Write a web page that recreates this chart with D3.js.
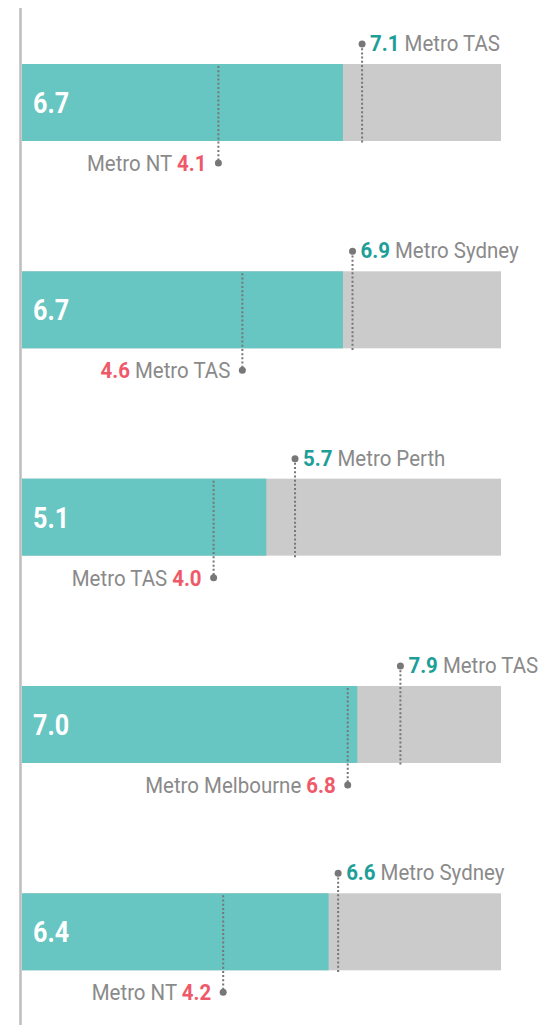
<!DOCTYPE html>
<html>
<head>
<meta charset="utf-8">
<script src="https://cdn.jsdelivr.net/npm/d3@7"></script>
<style>
  body { margin: 0; background: #fff; }
  svg { display: block; }
  text { font-family: Roboto, "Liberation Sans", sans-serif; }
</style>
</head>
<body>
<script>
const values = [6.7, 6.7, 5.1, 7.0, 6.4];
const highValues = [7.1, 6.9, 5.7, 7.9, 6.6];
const highNames = ['Metro TAS', 'Metro Sydney', 'Metro Perth', 'Metro TAS', 'Metro Sydney'];
const lowValues = [4.1, 4.6, 4.0, 6.8, 4.2];
const lowNames = ['Metro NT', 'Metro TAS', 'Metro TAS', 'Metro Melbourne', 'Metro NT'];
const lowValueFirst = [false, true, false, false, false];

const w = 541, h = 1025;
const barH = 77;
const squeeze = 0.93; // the original font is a condensed face

const svg = d3.select('body').append('svg')
  .attr('width', w)
  .attr('height', h);

const x = d3.scaleLinear([0, 10], [22, 501]);
const y = d3.scalePoint(d3.range(values.length), [64, 893.3]);

const rows = values.map((v, i) => ({
  v, hi: highValues[i], hiName: highNames[i],
  lo: lowValues[i], loName: lowNames[i], loFirst: lowValueFirst[i], i
}));

// axis line on the left
svg.append('line')
  .attr('x1', 20.5).attr('x2', 20.5)
  .attr('y1', 8).attr('y2', h)
  .attr('stroke', '#bdbdbd')
  .attr('stroke-width', 2.5);

const g = svg.selectAll('g.row')
  .data(rows)
  .enter().append('g')
  .attr('class', 'row')
  .attr('transform', d => `translate(0,${y(d.i)})`);

g.append('rect')
  .attr('x', x(0))
  .attr('width', x(10) - x(0))
  .attr('height', barH)
  .attr('fill', '#cbcbcb');

g.append('rect')
  .attr('x', x(0))
  .attr('width', d => x(d.v) - x(0))
  .attr('height', barH)
  .attr('fill', '#67c5c2');

g.append('text')
  .attr('transform', 'translate(33,49) scale(0.84,1)')
  .attr('fill', '#fff')
  .attr('font-weight', 'bold')
  .attr('font-size', 30)
  .text(d => d.v.toFixed(1));

// high marker
g.append('line')
  .attr('x1', d => x(d.hi)).attr('x2', d => x(d.hi))
  .attr('y1', -20).attr('y2', barH + 2)
  .attr('stroke', '#777')
  .attr('stroke-width', 2)
  .attr('stroke-dasharray', '2 2.2');

g.append('circle')
  .attr('cx', d => x(d.hi))
  .attr('cy', -20)
  .attr('r', 3.5)
  .attr('fill', '#777');

const hiText = g.append('text')
  .attr('transform', d => `translate(${x(d.hi) + 8},-13) scale(${squeeze},1)`)
  .attr('font-size', 22);
hiText.append('tspan')
  .attr('fill', '#1e9e98')
  .attr('font-weight', 'bold')
  .text(d => d.hi.toFixed(1));
hiText.append('tspan')
  .attr('fill', '#8a8a8a')
  .text(d => ' ' + d.hiName);

// low marker
g.append('line')
  .attr('x1', d => x(d.lo)).attr('x2', d => x(d.lo))
  .attr('y1', 2).attr('y2', barH + 22)
  .attr('stroke', '#777')
  .attr('stroke-width', 2)
  .attr('stroke-dasharray', '2 2.2');

g.append('circle')
  .attr('cx', d => x(d.lo))
  .attr('cy', barH + 22)
  .attr('r', 3.5)
  .attr('fill', '#777');

const loText = g.append('text')
  .attr('transform', d => `translate(${x(d.lo) - 12},${barH + 30}) scale(${squeeze},1)`)
  .attr('text-anchor', 'end')
  .attr('font-size', 22);
loText.each(function(d) {
  const t = d3.select(this);
  const name = () => t.append('tspan').attr('fill', '#8a8a8a');
  const val = () => t.append('tspan').attr('fill', '#ef5a6a').attr('font-weight', 'bold');
  if (d.loFirst) {
    val().text(d.lo.toFixed(1));
    name().text(' ' + d.loName);
  } else {
    name().text(d.loName + ' ');
    val().text(d.lo.toFixed(1));
  }
});
</script>
</body>
</html>
